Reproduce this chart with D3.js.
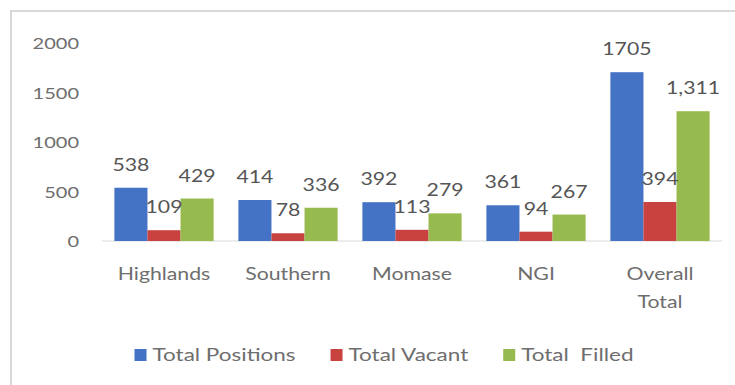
<!DOCTYPE html>
<html>
<head>
<meta charset="utf-8">
<script src="https://cdn.jsdelivr.net/npm/d3@7"></script>
<style>
  html, body { margin: 0; padding: 0; background: #ffffff; }
  svg { display: block; }
  text { font-family: Lato, "Open Sans", sans-serif; }
</style>
</head>
<body>
<svg id="chart" width="735" height="385"></svg>
<script>
// Regions and their staffing figures
const categories = ["Highlands", "Southern", "Momase", "NGI", "Overall Total"];
const totalPositions = [538, 414, 392, 361, 1705];
const totalVacant = [109, 78, 113, 94, 394];
const totalFilled = [429, 336, 279, 267, 1311];
const seriesNames = ["Total Positions", "Total Vacant", "Total  Filled"];
const yTicks = [0, 500, 1000, 1500, 2000];

const series = [
  { name: seriesNames[0], values: totalPositions, color: "#4472C4", fmt: d3.format("d") },
  { name: seriesNames[1], values: totalVacant, color: "#C8423F", fmt: d3.format("d") },
  { name: seriesNames[2], values: totalFilled, color: "#97BA4F", fmt: d3.format(",") }
];

const svg = d3.select("#chart");
const STRETCH = 1.25; // horizontal stretch applied to all text glyphs

function stretchedText(sel, x, y, str, opts) {
  return sel.append("text")
    .attr("transform", `translate(${x},${y}) scale(${STRETCH},1)`)
    .attr("text-anchor", opts.anchor || "middle")
    .attr("font-size", opts.size || 17)
    .attr("fill", opts.fill || "#6e6e6e")
    .text(str);
}

// Outer frame
svg.append("path")
  .attr("d", "M11,385 L11,11 L735,11")
  .attr("fill", "none")
  .attr("stroke", "#d9d9d9")
  .attr("stroke-width", 2);

const y = d3.scaleLinear().domain([0, 2000]).range([241, 43]);
const x0 = d3.scaleBand().domain(categories).range([102, 722])
  .paddingInner(0.2).paddingOuter(0.1);
const x1 = d3.scaleBand().domain(seriesNames).range([0, x0.bandwidth()]).padding(0);

// Y axis tick labels
const yAxisG = svg.append("g");
yTicks.forEach(t => {
  stretchedText(yAxisG, 79, y(t) + 6, d3.format("d")(t), { anchor: "end", size: 16 });
});

// Baseline
svg.append("line")
  .attr("x1", 102).attr("x2", 722)
  .attr("y1", y(0)).attr("y2", y(0))
  .attr("stroke", "#d9d9d9").attr("stroke-width", 1);

// Bars
const groups = svg.append("g").selectAll("g")
  .data(categories)
  .join("g")
  .attr("transform", d => `translate(${x0(d)},0)`);

groups.each(function(cat, ci) {
  const g = d3.select(this);
  series.forEach(s => {
    const v = s.values[ci];
    g.append("rect")
      .attr("x", x1(s.name))
      .attr("y", y(v))
      .attr("width", x1.bandwidth())
      .attr("height", y(0) - y(v))
      .attr("fill", s.color);
  });
});

// Data labels
groups.each(function(cat, ci) {
  const g = d3.select(this);
  series.forEach(s => {
    const v = s.values[ci];
    stretchedText(g, x1(s.name) + x1.bandwidth() / 2, y(v) - 17, s.fmt(v), { size: 17, fill: "#555555" });
  });
});

// Category labels (wrapped onto two lines where needed)
categories.forEach(c => {
  const lines = c === "Overall Total" ? ["Overall", "Total"] : [c];
  lines.forEach((ln, i) => {
    stretchedText(svg, x0(c) + x0.bandwidth() / 2, 280 + i * 28, ln, { size: 17 });
  });
});

// Legend
const legend = svg.append("g");
const items = [];
series.forEach((s, i) => {
  const it = legend.append("g");
  it.append("rect").attr("x", 0).attr("y", -6).attr("width", 12).attr("height", 12).attr("fill", s.color);
  const t = stretchedText(it, 18, 6, s.name, { anchor: "start", size: 18 });
  t.attr("xml:space", "preserve").style("white-space", "pre");
  const w = 18 + t.node().getComputedTextLength() * STRETCH;
  items.push({ it, w });
});
const gap = 35;
const totalW = d3.sum(items, d => d.w) + gap * (items.length - 1);
let lx = 384 - totalW / 2;
items.forEach(d => {
  d.it.attr("transform", `translate(${lx},355)`);
  lx += d.w + gap;
});
</script>
</body>
</html>
